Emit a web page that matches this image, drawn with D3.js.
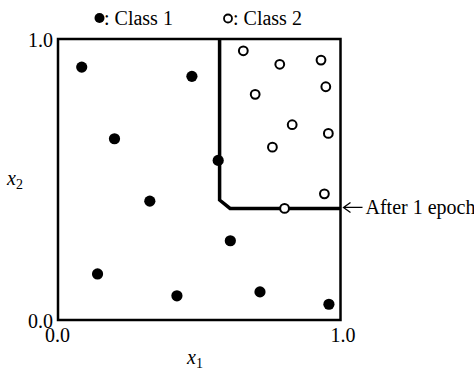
<!DOCTYPE html>
<html>
<head>
<meta charset="utf-8">
<script src="https://cdn.jsdelivr.net/npm/d3@7/dist/d3.min.js"></script>
<style>
  html, body { margin: 0; padding: 0; background: #fff; }
  svg { display: block; }
  text { font-family: "Liberation Serif", "Times New Roman", serif; fill: #000; }
</style>
</head>
<body>
<script>
// Class 1 samples (filled markers)
const class1X1 = [0.084, 0.474, 0.200, 0.567, 0.325, 0.610, 0.140, 0.421, 0.715, 0.959];
const class1X2 = [0.900, 0.867, 0.645, 0.568, 0.423, 0.282, 0.164, 0.086, 0.100, 0.056];
// Class 2 samples (open markers)
const class2X1 = [0.656, 0.785, 0.931, 0.698, 0.948, 0.829, 0.957, 0.759, 0.943, 0.802];
const class2X2 = [0.958, 0.910, 0.925, 0.803, 0.830, 0.695, 0.664, 0.615, 0.449, 0.397];
// Decision boundary after one epoch
const boundaryX1 = [0.572, 0.572, 0.609, 1.0];
const boundaryX2 = [1.0, 0.427, 0.397, 0.397];
// Axis ticks
const tickValues = [0, 1];
const tickLabels = ["0.0", "1.0"];
const boundaryLabel = "After 1 epoch";
const legendLabels = [": Class 1", ": Class 2"];

const W = 474, H = 371;
const svg = d3.select("body").append("svg").attr("width", W).attr("height", H);

const x = d3.scaleLinear().domain([0, 1]).range([58, 340.5]);
const y = d3.scaleLinear().domain([0, 1]).range([320, 39]);

// Axes (labels only; the frame is drawn separately)
const yAxis = d3.axisLeft(y).tickValues(tickValues).tickSize(0).tickPadding(5)
  .tickFormat((d, i) => tickLabels[i]);
const xAxis = d3.axisBottom(x).tickValues(tickValues).tickSize(0).tickPadding(8)
  .tickFormat((d, i) => tickLabels[i]);

const gy = svg.append("g").attr("transform", `translate(${x(0)},0)`).call(yAxis);
const gx = svg.append("g").attr("transform", `translate(0,${y(0)})`).call(xAxis);
[gx, gy].forEach(g => {
  g.select(".domain").remove();
  g.selectAll("text").attr("font-size", 20).attr("font-family", "Liberation Serif").attr("fill", "#000");
});
gy.selectAll("text").attr("dy", "0.36em");
gx.selectAll("text").attr("dx", (d) => d === 0 ? -1 : 2);

// Frame
svg.append("rect")
  .attr("x", x(0)).attr("y", y(1))
  .attr("width", x(1) - x(0)).attr("height", y(0) - y(1))
  .attr("fill", "none").attr("stroke", "#000").attr("stroke-width", 2.5);

// Decision boundary
const boundary = boundaryX1.map((v, i) => [v, boundaryX2[i]]);
svg.append("path")
  .attr("d", d3.line().x(d => x(d[0])).y(d => y(d[1]))(boundary))
  .attr("fill", "none").attr("stroke", "#000").attr("stroke-width", 3.5)
  .attr("stroke-linejoin", "miter");

// Samples
svg.append("g").selectAll("circle")
  .data(class1X1.map((v, i) => [v, class1X2[i]]))
  .join("circle")
  .attr("cx", d => x(d[0])).attr("cy", d => y(d[1])).attr("r", 5.6)
  .attr("fill", "#000");

svg.append("g").selectAll("circle")
  .data(class2X1.map((v, i) => [v, class2X2[i]]))
  .join("circle")
  .attr("cx", d => x(d[0])).attr("cy", d => y(d[1])).attr("r", 4.4)
  .attr("fill", "#fff").attr("stroke", "#000").attr("stroke-width", 2);

// Boundary annotation with arrow
const ay = y(boundaryX2[boundaryX2.length - 1]) - 1;
const ax = x(1) + 3;
svg.append("path")
  .attr("d", `M${ax + 19},${ay} L${ax},${ay} M${ax + 7},${ay - 5} L${ax},${ay} L${ax + 7},${ay + 5}`)
  .attr("fill", "none").attr("stroke", "#000").attr("stroke-width", 1.3);
svg.append("text")
  .attr("x", ax + 22).attr("y", ay + 7)
  .attr("font-size", 20)
  .text(boundaryLabel);

// Legend
svg.append("circle").attr("cx", 99.5).attr("cy", 18).attr("r", 5)
  .attr("fill", "#000");
svg.append("text").attr("x", 104).attr("y", 25).attr("font-size", 20).text(legendLabels[0]);
svg.append("circle").attr("cx", 228).attr("cy", 18.5).attr("r", 4)
  .attr("fill", "#fff").attr("stroke", "#000").attr("stroke-width", 1.8);
svg.append("text").attr("x", 233).attr("y", 25).attr("font-size", 20).text(legendLabels[1]);

// Axis titles
const xt = svg.append("text").attr("x", 187).attr("y", 364).attr("font-size", 20);
xt.append("tspan").attr("font-style", "italic").text("x");
xt.append("tspan").attr("font-size", 14).attr("dy", 4).text("1");

const yt = svg.append("text").attr("x", 7).attr("y", 185).attr("font-size", 20);
yt.append("tspan").attr("font-style", "italic").text("x");
yt.append("tspan").attr("font-size", 14).attr("dy", 4).text("2");
</script>
</body>
</html>
